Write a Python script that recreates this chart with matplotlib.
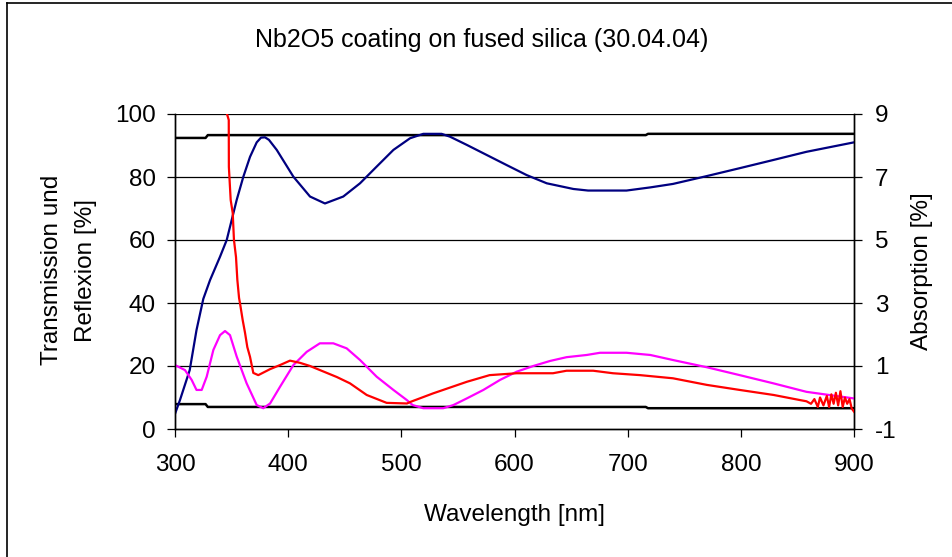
import numpy as np
import matplotlib
matplotlib.use("Agg")
import matplotlib.pyplot as plt
from matplotlib.lines import Line2D

plt.rcParams['font.family'] = ['Liberation Sans', 'DejaVu Sans']
plt.rcParams['axes.unicode_minus'] = False
FS = 17.5

# Transmission of the coated sample [%]
wl_T = [300, 304.4, 313, 319, 325, 331, 339.8, 345.7, 354.5, 360.4, 366.3, 372.2,
        376, 379.5, 383, 389.9, 404.6, 419.3, 432.5, 448.7, 463.5, 478.2, 493, 507.7, 519.4,
        535.6, 543, 557.8, 575.4, 593, 610.8, 628.5, 652, 665, 699, 720, 740, 770,
        799, 828.7, 858, 900]
trans = [4.8, 9.2, 18.7, 31.4, 41.3, 47.3, 54.7, 60, 72.7, 80.1, 86.4, 91.0,
         92.5, 92.6, 91.8, 88.6, 80.1, 73.8, 71.6, 73.8, 78.0, 83.3, 88.6, 92.3, 93.7,
         93.7, 92.8, 90.2, 87.0, 83.8, 80.6, 78.0, 76.2, 75.7, 75.7, 76.7, 77.8, 80.3,
         82.8, 85.4, 88.0, 91.0]

# Reflexion of the coated sample [%]
wl_R = [300, 308.8, 314.7, 319, 323.6, 328, 333.9, 339.8, 344.2, 348.6, 354.5, 363.3,
        372.2, 378, 384, 392.8, 404.6, 416.4, 428, 439.9, 451.7, 463.5, 478.2, 493,
        504.8, 510, 519.4, 537, 546, 557.8, 572.5, 587.3, 602, 616.6, 631.4, 646,
        663.8, 675.6, 699, 720, 740, 770, 799, 828.7, 858, 900]
refl = [20.3, 18.7, 15.6, 12.4, 12.4, 16.6, 25.1, 29.8, 31.1, 29.8, 23.0, 14.5,
        7.6, 6.6, 8.1, 13.4, 20.3, 24.5, 27.2, 27.2, 25.6, 21.9, 16.6, 12.4,
        9.2, 7.6, 6.6, 6.6, 7.6, 9.7, 12.4, 15.6, 18.2, 20.0, 21.6, 22.8,
        23.5, 24.2, 24.2, 23.5, 21.9, 19.6, 17.1, 14.5, 11.8, 9.7]

# Absorption [%] (right axis)
wl_A = [343, 345.7, 347.5, 347.6, 349.2, 351.0, 352.1, 353.9, 355.1, 356.6, 357.4,
        359.8, 361.9, 363.9, 366.3, 369.2, 373.6, 384, 392.8, 401.6, 410.5, 419.3,
        443, 454.6, 469.4, 487, 505, 508, 528, 558, 578, 602, 634, 646, 669.5,
        687, 711, 740, 770, 799, 829, 852, 858, 862, 865, 868, 870, 873, 876, 878,
        880, 882, 884, 886, 888, 890, 892, 894, 896, 898, 900]
absorp = [10.5, 9.03, 8.81, 7.32, 6.27, 5.86, 5.0, 4.46, 3.73, 3.16, 3.0,
          2.46, 2.05, 1.6, 1.29, 0.78, 0.71, 0.9, 1.03, 1.17, 1.1, 1.0,
          0.65, 0.45, 0.08, -0.17, -0.19, -0.14, 0.13, 0.5, 0.71, 0.77, 0.77, 0.85, 0.85,
          0.77, 0.71, 0.61, 0.40, 0.24, 0.08, -0.08, -0.12, -0.2, -0.05, -0.3, 0.0, -0.25,
          0.05, -0.3, 0.1, -0.2, 0.15, -0.25, 0.2, -0.3, 0.0, -0.2, -0.05, -0.35, -0.45]

# uncoated substrate transmission / reflexion [%]
wl_sub = [300, 327, 329, 716, 718, 900]
sub_T = [92.4, 92.4, 93.3, 93.3, 93.7, 93.7]
sub_R = [7.9, 7.9, 7.0, 7.0, 6.6, 6.6]

fig = plt.figure(figsize=(9.53, 5.57), dpi=100)
ax = fig.add_axes([175 / 953, 1 - 429 / 557, (854 - 175) / 953, (429 - 114) / 557])
ax2 = ax.twinx()

for yv in [20, 40, 60, 80, 100]:
    ax.axhline(yv, color='black', lw=0.9, zorder=1)

ax.plot(wl_sub, sub_T, color='black', lw=1.8, zorder=2)
ax.plot(wl_sub, sub_R, color='black', lw=1.8, zorder=2)
ax.plot(wl_T, trans, color='#000080', lw=1.6, zorder=3)
ax.plot(wl_R, refl, color='#FF00FF', lw=1.6, zorder=3)
ax2.plot(wl_A, absorp, color='#FF0000', lw=1.6, zorder=3)

ax.set_xlim(300, 900)
ax.set_ylim(0, 100)
ax2.set_ylim(-1, 9)
ax.set_xticks(np.arange(300, 901, 100))
ax.set_yticks(np.arange(0, 101, 20))
ax2.set_yticks(np.arange(-1, 10, 2))

ax.tick_params(axis='y', direction='out', length=6, width=0.9, labelsize=FS, pad=8)
ax.tick_params(axis='x', direction='out', length=6, width=0.9, labelsize=FS, pad=12)
ax2.tick_params(axis='y', direction='out', length=6, width=0.9, labelsize=FS, pad=9)

for a in (ax, ax2):
    a.spines['top'].set_visible(False)
    for s in ('left', 'right', 'bottom'):
        a.spines[s].set_linewidth(1.0)
ax.patch.set_visible(False)

fig.text(0.505, 1 - 40 / 557, 'Nb2O5 coating on fused silica (30.04.04)',
         ha='center', va='center', fontsize=18)
fig.text(69 / 953, 1 - 270 / 557, 'Transmission und\nReflexion [%]', rotation=90,
         ha='center', va='center', fontsize=FS, linespacing=1.75)
fig.text(922 / 953, 1 - 271 / 557, 'Absorption [%]', rotation=90,
         ha='center', va='center', fontsize=FS)
fig.text((175 + 854) / 2 / 953, 1 - 515 / 557, 'Wavelength [nm]',
         ha='center', va='center', fontsize=FS)

# chart border (only top and left edges visible in the crop)
fig.add_artist(Line2D([7 / 953, 7 / 953], [0, 1 - 3 / 557], transform=fig.transFigure,
                      color='black', lw=1.2))
fig.add_artist(Line2D([7 / 953, 1], [1 - 3 / 557, 1 - 3 / 557], transform=fig.transFigure,
                      color='black', lw=1.2))

fig.savefig('out.png', dpi=100)
